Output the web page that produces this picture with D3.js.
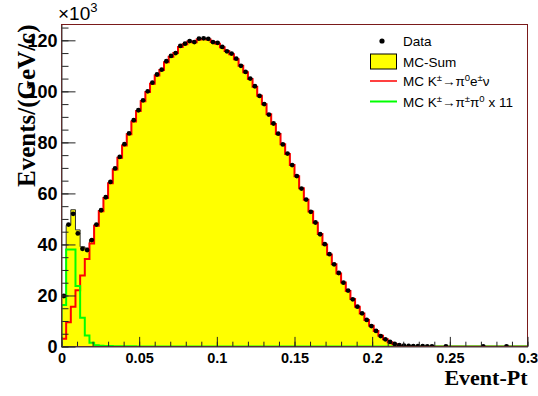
<!DOCTYPE html>
<html>
<head>
<meta charset="utf-8">
<script src="https://cdn.jsdelivr.net/npm/d3@7"></script>
<style>
  body { margin: 0; background: #fff; }
  svg { display: block; }
</style>
</head>
<body>
<div id="chart"></div>
<script>
// bins of 0.003 in Event-Pt, counts in units of 10^3
const binWidth = 0.003;
const nBins = 100;

const dataCounts = [
  19.8, 47.8, 52.0, 44.3, 38.3, 37.8, 41.7, 47.8, 53.4, 58.5,
  64.5, 69.8, 74.3, 79.3, 83.5, 88.7, 92.6, 96.5, 100.0, 103.4,
  106.6, 108.5, 111.8, 113.9, 115.0, 117.8, 118.7, 119.7, 119.3, 120.7,
  120.8, 120.6, 119.3, 119.0, 117.4, 115.7, 114.8, 112.8, 110.0, 107.6,
  105.0, 102.0, 98.2, 95.0, 90.9, 87.4, 83.4, 79.2, 75.6, 71.1,
  66.8, 61.9, 57.6, 52.8, 48.6, 44.0, 40.1, 36.2, 32.2, 28.8,
  25.0, 21.9, 18.5, 15.6, 13.0, 10.4, 8.0, 6.1, 4.1, 2.8,
  1.8, 1.0, 0.5, 0.3, 0.2, 0.15, 0.1, 0.1, 0.05, 0.05,
  0, 0, 0.02, 0, 0, 0, 0, 0, 0, 0,
  0.01, 0, 0, 0, 0, 0.01, 0, 0, 0, 0
];

const mcKe3 = [
  3.0, 9.5, 15.6, 22.0, 27.8, 34.3, 40.4, 47.3, 53.0, 58.2,
  64.0, 69.4, 74.0, 78.8, 83.2, 88.2, 92.3, 96.1, 99.7, 103.0,
  106.2, 108.4, 111.4, 113.6, 115.0, 117.4, 118.5, 119.5, 119.2, 120.3,
  120.5, 120.3, 119.3, 118.7, 117.3, 115.8, 114.5, 112.6, 110.0, 107.5,
  104.8, 101.8, 98.3, 94.9, 91.0, 87.2, 83.3, 79.3, 75.4, 71.1,
  66.7, 62.0, 57.5, 52.9, 48.5, 44.1, 40.0, 36.1, 32.2, 28.6,
  25.1, 21.8, 18.6, 15.6, 12.9, 10.4, 8.1, 6.1, 4.2, 2.8,
  1.7, 0.9, 0.4, 0.15, 0.05, 0.02, 0, 0, 0, 0,
  0, 0, 0, 0, 0, 0, 0, 0, 0, 0,
  0, 0, 0, 0, 0, 0, 0, 0, 0, 0
];

// K -> pi pi0, drawn scaled x 11
const mcK2pi = [
  16.3, 38.0, 38.0, 23.7, 11.3, 4.3, 1.5, 0.5, 0.3, 0.2,
  0.15, 0.12, 0.1, 0.08, 0.06, 0.05, 0.04, 0.03, 0.03, 0.02,
  0.02, 0.02, 0.01, 0.01, 0.01, 0.01, 0.01, 0.01, 0.01, 0.01,
  0, 0, 0, 0, 0, 0, 0, 0, 0, 0,
  0, 0, 0, 0, 0, 0, 0, 0, 0, 0,
  0, 0, 0, 0, 0, 0, 0, 0, 0, 0,
  0, 0, 0, 0, 0, 0, 0, 0, 0, 0,
  0, 0, 0, 0, 0, 0, 0, 0, 0, 0,
  0, 0, 0, 0, 0, 0, 0, 0, 0, 0,
  0, 0, 0, 0, 0, 0, 0, 0, 0, 0
];

const xTicks = [0, 0.05, 0.1, 0.15, 0.2, 0.25, 0.3];
const yTicks = [0, 20, 40, 60, 80, 100, 120];
const legendLabels = ['Data', 'MC-Sum', 'MC K±→π0e±ν', 'MC K±→π±π0 x 11'];

const width = 538;
const height = 396;
const margin = { top: 24.5, right: 10.5, bottom: 49.5, left: 61.5 };
const plotW = width - margin.left - margin.right;
const plotH = height - margin.top - margin.bottom;

const sans = '"Liberation Sans", Arial, Helvetica, sans-serif';
const serif = '"Liberation Serif", "Times New Roman", Times, serif';

const svg = d3.select('#chart')
  .append('svg')
  .attr('width', width)
  .attr('height', height);

const g = svg.append('g')
  .attr('transform', `translate(${margin.left}, ${margin.top})`);

const x = d3.scaleLinear().domain([0, 0.3]).range([0, plotW]);
const y = d3.scaleLinear().domain([0, 126.2]).range([plotH, 0]);

g.append('clipPath').attr('id', 'frame-clip')
  .append('rect').attr('width', plotW).attr('height', plotH);

const plot = g.append('g').attr('clip-path', 'url(#frame-clip)');

// step points: left edge of every bin, plus closing right edge
const steps = values => {
  const pts = values.map((v, i) => [i * binWidth, v]);
  pts.push([nBins * binWidth, values[values.length - 1]]);
  return pts;
};

const mcSum = mcKe3.map((v, i) => v + mcK2pi[i]);

const area = d3.area()
  .curve(d3.curveStepAfter)
  .x(d => x(d[0]))
  .y0(y(0))
  .y1(d => y(d[1]));

const line = d3.line()
  .curve(d3.curveStepAfter)
  .x(d => x(d[0]))
  .y(d => y(d[1]));

plot.append('path')
  .datum(steps(mcSum))
  .attr('d', area)
  .attr('fill', '#ffff00')
  .attr('stroke', '#333')
  .attr('stroke-width', 1);

plot.append('path')
  .datum([[0, 0]].concat(steps(mcKe3)))
  .attr('d', line)
  .attr('fill', 'none')
  .attr('stroke', '#ff0000')
  .attr('stroke-width', 2);

plot.append('path')
  .datum([[0, 0]].concat(steps(mcK2pi)))
  .attr('d', line)
  .attr('fill', 'none')
  .attr('stroke', '#00ff00')
  .attr('stroke-width', 2);

plot.append('g')
  .selectAll('circle')
  .data(dataCounts.map((v, i) => ({ c: (i + 0.5) * binWidth, v })).filter(d => d.v > 0))
  .enter()
  .append('circle')
  .attr('cx', d => x(d.c))
  .attr('cy', d => y(d.v))
  .attr('r', 2.4)
  .attr('fill', '#000');

// frame
g.append('rect')
  .attr('width', plotW)
  .attr('height', plotH)
  .attr('fill', 'none')
  .attr('stroke', '#7a1a1a')
  .attr('stroke-width', 1);

// axes (ticks pointing into the frame)
const xMinor = d3.range(0, 0.3001, 0.01);
const yMinor = d3.range(0, 126, 5);

g.append('g')
  .attr('transform', `translate(0, ${plotH})`)
  .call(d3.axisBottom(x).tickValues(xMinor).tickSize(-4.8).tickSizeOuter(0).tickFormat(''))
  .call(a => a.select('.domain').remove())
  .selectAll('line').attr('stroke', '#222');

const xAxis = g.append('g')
  .attr('transform', `translate(0, ${plotH})`)
  .call(d3.axisBottom(x).tickValues(xTicks).tickSize(-9.6).tickSizeOuter(0).tickPadding(6)
    .tickFormat(d3.format('~g')));
xAxis.select('.domain').attr('stroke', '#444');
xAxis.selectAll('line').attr('stroke', '#222');
xAxis.selectAll('text')
  .attr('font-family', sans)
  .attr('font-weight', 'bold')
  .attr('font-size', 14.5)
  .attr('fill', '#000');

g.append('g')
  .call(d3.axisLeft(y).tickValues(yMinor).tickSize(-7).tickSizeOuter(0).tickFormat(''))
  .call(a => a.select('.domain').remove())
  .selectAll('line').attr('stroke', '#222');

const yAxis = g.append('g')
  .call(d3.axisLeft(y).tickValues(yTicks).tickSize(-14).tickSizeOuter(0).tickPadding(4));
yAxis.select('.domain').attr('stroke', '#444');
yAxis.selectAll('line').attr('stroke', '#222');
yAxis.selectAll('text')
  .attr('font-family', sans)
  .attr('font-weight', 'bold')
  .attr('font-size', 18)
  .attr('fill', '#000');

// x10^3 exponent
const expo = svg.append('text')
  .attr('x', 58)
  .attr('y', 20)
  .attr('font-family', sans)
  .attr('font-size', 19)
  .attr('fill', '#000');
expo.append('tspan').text('×10');
expo.append('tspan').attr('dy', -8).attr('font-size', 13).text('3');

// axis titles
svg.append('text')
  .attr('x', width - margin.right)
  .attr('y', 385)
  .attr('text-anchor', 'end')
  .attr('font-family', serif)
  .attr('font-weight', 'bold')
  .attr('font-size', 22)
  .attr('fill', '#000')
  .text('Event-Pt');

svg.append('text')
  .attr('transform', `translate(35, ${margin.top}) rotate(-90)`)
  .attr('text-anchor', 'end')
  .attr('font-family', serif)
  .attr('font-weight', 'bold')
  .attr('font-size', 25)
  .attr('fill', '#000')
  .text('Events/(GeV/c)');

// legend
const legend = svg.append('g').attr('transform', 'translate(370, 0)');
const rowY = [41, 61.5, 81, 101.5];
const textX = 33;

legend.append('circle').attr('cx', 12).attr('cy', rowY[0]).attr('r', 2.6).attr('fill', '#000');
legend.append('rect')
  .attr('x', 0.5).attr('y', rowY[1] - 7.5).attr('width', 26).attr('height', 15)
  .attr('fill', '#ffff00').attr('stroke', '#000').attr('stroke-width', 1);
legend.append('line')
  .attr('x1', 0).attr('x2', 27).attr('y1', rowY[2]).attr('y2', rowY[2])
  .attr('stroke', '#ff0000').attr('stroke-width', 1.5);
legend.append('line')
  .attr('x1', 0).attr('x2', 27).attr('y1', rowY[3]).attr('y2', rowY[3])
  .attr('stroke', '#00ff00').attr('stroke-width', 2);

const legendText = (row) => legend.append('text')
  .attr('x', textX)
  .attr('y', rowY[row] + 5)
  .attr('font-family', sans)
  .attr('font-size', 13.5)
  .attr('fill', '#000');

legendText(0).text(legendLabels[0]);
legendText(1).text(legendLabels[1]);

// superscripts for the decay labels: shift up, then back down on the next piece
const supShift = 5;
const writeDecay = (t, parts) => {
  let prev = 0;
  parts.forEach(([s, sup]) => {
    const cur = sup ? -supShift : 0;
    t.append('tspan')
      .attr('dy', cur - prev)
      .attr('font-size', sup ? 9.5 : 13.5)
      .text(s);
    prev = cur;
  });
};
writeDecay(legendText(2), [['MC K', 0], ['±', 1], ['→π', 0], ['0', 1], ['e', 0], ['±', 1], ['ν', 0]]);
writeDecay(legendText(3), [['MC K', 0], ['±', 1], ['→π', 0], ['±', 1], ['π', 0], ['0', 1], [' x 11', 0]]);
</script>
</body>
</html>
